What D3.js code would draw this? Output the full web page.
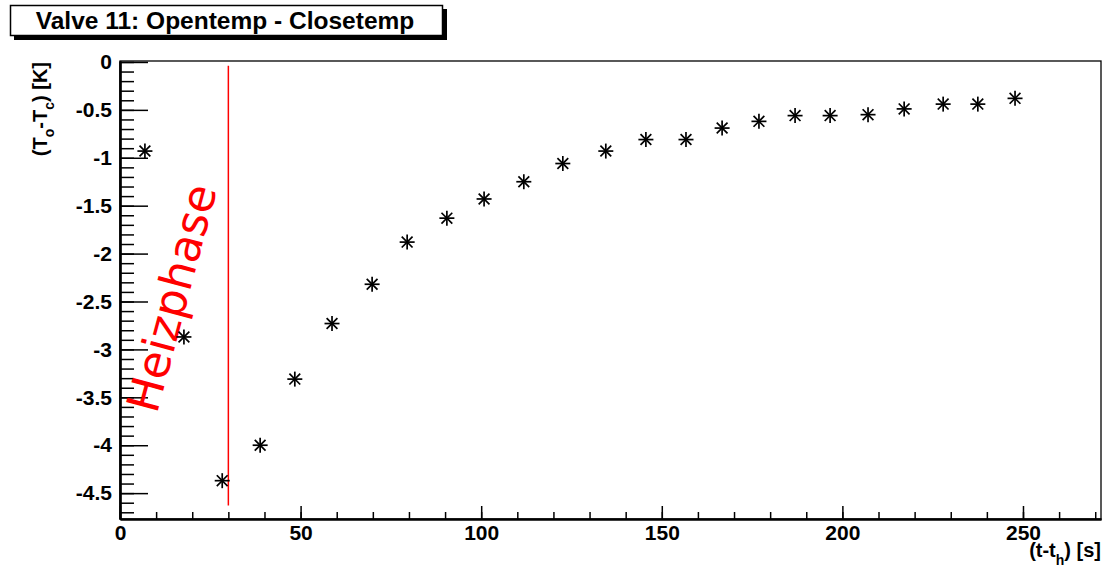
<!DOCTYPE html>
<html><head><meta charset="utf-8">
<script src="https://cdn.jsdelivr.net/npm/d3@7"></script>
<style>
html,body{margin:0;padding:0;background:#fff;}
svg{display:block;}
text{font-family:"Liberation Sans",Arial,Helvetica,sans-serif;}
</style></head><body>
<svg id="c" width="1103" height="569"></svg>
<script>
const title = "Valve 11: Opentemp - Closetemp";
const xValues = [6.9, 17.7, 28.3, 38.8, 48.4, 58.7, 69.8, 79.5, 90.5, 100.8, 111.8, 122.6, 134.5, 145.6, 156.7, 166.7, 176.9, 186.9, 196.6, 207.1, 217.1, 227.9, 237.5, 247.8];
const yValues = [-0.93, -2.87, -4.37, -4.00, -3.31, -2.73, -2.32, -1.88, -1.63, -1.43, -1.25, -1.06, -0.93, -0.81, -0.81, -0.69, -0.62, -0.56, -0.56, -0.55, -0.49, -0.44, -0.44, -0.38];
const xMajorTicks = [0, 50, 100, 150, 200, 250];
const xTickLabels = ["0", "50", "100", "150", "200", "250"];
const yMajorTicks = [0, -0.5, -1, -1.5, -2, -2.5, -3, -3.5, -4, -4.5];
const yTickLabels = ["0", "-0.5", "-1", "-1.5", "-2", "-2.5", "-3", "-3.5", "-4", "-4.5"];
const heizX = [30];
const heizY = [-0.04, -4.63];
const annotation = "Heizphase";

const svg = d3.select("#c");
const L = 120, R = 1101, T = 61, B = 519;
const x = d3.scaleLinear().domain([0, 271.6]).range([L, R]);
const y = d3.scaleLinear().domain([-4.77, 0.01]).range([B, T]);

// frame
svg.append("rect").attr("x", L).attr("y", T).attr("width", R - L).attr("height", B - T)
  .attr("fill", "none").attr("stroke", "#000").attr("stroke-width", 1.3);

const minorX = d3.range(0, 271, 10);
const minorY = d3.range(0, 48).map(i => -i / 10);

// x axis
const gx = svg.append("g").attr("transform", `translate(0,${B})`);
gx.call(d3.axisBottom(x).tickValues(minorX).tickSize(-7).tickFormat("").tickSizeOuter(0));
gx.append("g").call(d3.axisBottom(x).tickValues(xMajorTicks).tickSize(-13).tickPadding(6)
  .tickFormat((d, i) => xTickLabels[i]).tickSizeOuter(0));
gx.selectAll(".domain").attr("stroke-width", 2.2);
gx.selectAll("line").attr("stroke-width", 1.5);
gx.selectAll("text").attr("font-size", 21).attr("font-weight", "bold").attr("fill", "#000")
  .attr("dy", "0.71em");

// y axis
const gy = svg.append("g").attr("transform", `translate(${L},0)`);
gy.call(d3.axisLeft(y).tickValues(minorY).tickSize(-14).tickFormat("").tickSizeOuter(0));
gy.append("g").call(d3.axisLeft(y).tickValues(yMajorTicks).tickSize(-28).tickPadding(8)
  .tickFormat((d, i) => yTickLabels[i]).tickSizeOuter(0));
gy.selectAll(".domain").attr("stroke-width", 2.2);
gy.selectAll("line").attr("stroke-width", 1.5);
gy.selectAll("text").attr("font-size", 21).attr("font-weight", "bold").attr("fill", "#000");

// axis titles
const yt = svg.append("text").attr("transform", "translate(47,62) rotate(-90)")
  .attr("text-anchor", "end").attr("font-size", 20).attr("font-weight", "bold");
yt.append("tspan").text("(T");
yt.append("tspan").attr("font-size", 14).attr("dy", 7).text("o");
yt.append("tspan").attr("dy", -7).text("-T");
yt.append("tspan").attr("font-size", 14).attr("dy", 7).text("c");
yt.append("tspan").attr("dy", -7).text(") [K]");

const xt = svg.append("text").attr("x", 1101).attr("y", 557)
  .attr("text-anchor", "end").attr("font-size", 20).attr("font-weight", "bold");
xt.append("tspan").text("(t-t");
xt.append("tspan").attr("font-size", 14).attr("dy", 8).text("h");
xt.append("tspan").attr("dy", -8).text(") [s]");

// red line
svg.append("line").attr("x1", x(heizX[0])).attr("x2", x(heizX[0]))
  .attr("y1", y(heizY[0])).attr("y2", y(heizY[1]))
  .attr("stroke", "#ff0000").attr("stroke-width", 1.5);

// annotation
svg.append("text").attr("transform", "translate(187,302) rotate(-75)")
  .attr("text-anchor", "middle").attr("font-size", 45).attr("fill", "#ff0000")
  .style("font-family", "'DejaVu Sans',sans-serif").text(annotation);

// markers (star)
const data = xValues.map((v, i) => [v, yValues[i]]);
const r = 7.5;
const star = svg.append("g").selectAll("g").data(data).join("g")
  .attr("transform", d => `translate(${x(d[0])},${y(d[1])})`);
[[ -r, 0, r, 0], [0, -r, 0, r], [-r*0.72, -r*0.72, r*0.72, r*0.72], [-r*0.72, r*0.72, r*0.72, -r*0.72]]
  .forEach(s => star.append("line").attr("x1", s[0]).attr("y1", s[1]).attr("x2", s[2]).attr("y2", s[3])
    .attr("stroke", "#000").attr("stroke-width", 1.7));

// title box
svg.append("rect").attr("x", 14).attr("y", 9).attr("width", 433).attr("height", 31).attr("fill", "#000");
svg.append("rect").attr("x", 10.5).attr("y", 5.5).attr("width", 432).attr("height", 30)
  .attr("fill", "#fff").attr("stroke", "#000").attr("stroke-width", 1.5);
svg.append("text").attr("x", 225).attr("y", 29).attr("text-anchor", "middle")
  .attr("font-size", 24.5).attr("font-weight", "bold").text(title);
</script>
</body></html>
